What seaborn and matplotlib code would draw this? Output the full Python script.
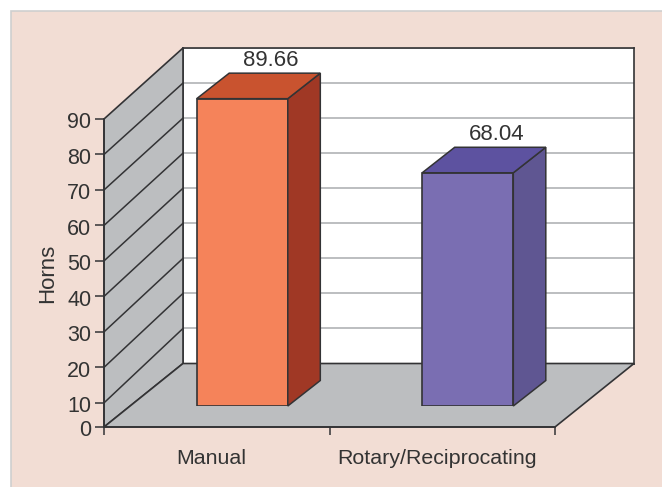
import numpy as np
import pandas as pd
import matplotlib
matplotlib.use("Agg")
import matplotlib.pyplot as plt
import seaborn as sns
from matplotlib.patches import Polygon, Rectangle
from matplotlib.transforms import Affine2D, IdentityTransform, ScaledTranslation
from matplotlib.patches import ConnectionPatch

categories = ["Manual", "Rotary/Reciprocating"]
horns = [89.66, 68.04]
value_labels = ["89.66", "68.04"]
y_ticks = [0, 10, 20, 30, 40, 50, 60, 70, 80, 90]
front_colors = ["#F5835A", "#7A6EB2"]
top_colors = ["#C9532F", "#5D52A0"]
side_colors = ["#A03825", "#5F5692"]

W, H = 662, 487
PINK = "#F2DDD4"
GREY = "#BCBEC0"
EDGE = "#333335"
TEXT = "#333333"

sns.set_theme(style="white")
plt.rcParams["font.family"] = ["Liberation Sans", "DejaVu Sans"]

fig = plt.figure(figsize=(W / 100, H / 100), dpi=100, facecolor="white")


def frame(left, right, top, bottom):
    return [left / W, 1 - bottom / H, (right - left) / W, (bottom - top) / H]


fig.add_artist(Rectangle((11 / W, -0.02), 1.1, 1 - 11 / H + 0.02, transform=fig.transFigure,
                         facecolor=PINK, edgecolor="#CFCFCF", linewidth=1.2, zorder=0))

# back wall
back = fig.add_axes(frame(183, 634, 48, 363.5), zorder=1, facecolor="white")
back.set_xlim(-0.5, 1.5)
back.set_ylim(0, 90)
back.set_xticks([])
back.set_yticks(y_ticks[1:])
back.tick_params(left=False, labelleft=False, length=0)
back.grid(True, axis="y", color=GREY, linewidth=1.4)
back.set_axisbelow(True)
for s in back.spines.values():
    s.set_color(EDGE)
    s.set_linewidth(1.2)

# front plane with the value axis; the lowest decade is drawn compressed, as in the source
front = fig.add_axes(frame(104, 555, 119, 427), zorder=2, facecolor="none")
front.set_xlim(-0.5, 1.5)
scale_in = [0, 10, 90]
scale_out = [3.2, 10, 90]
front.set_yscale("function", functions=(lambda v: np.interp(v, scale_in, scale_out),
                                        lambda v: np.interp(v, scale_out, scale_in)))
front.set_ylim(0, 90)
front.set_yticks(y_ticks)
front.set_yticklabels([str(t) for t in y_ticks])
front.minorticks_off()
front.set_xticks([-0.5, 0.5, 1.5])
front.set_xticklabels([])
front.set_xticks([0, 1], minor=True)
front.set_xticklabels(categories, minor=True)
front.tick_params(axis="y", which="major", left=True, length=6.5, width=1.1, color=EDGE,
                  labelsize=15.5, labelcolor=TEXT, pad=2.5)
front.tick_params(axis="x", which="major", bottom=True, length=6, width=1.1, color=EDGE)
front.tick_params(axis="x", which="minor", bottom=False, length=0, labelsize=15.4,
                  labelcolor=TEXT, pad=16)
shift = ScaledTranslation(-5 / 100, 0, fig.dpi_scale_trans)
for lab in front.get_xticklabels(minor=True):
    lab.set_transform(lab.get_transform() + shift)
ydown = ScaledTranslation(0, -1.5 / 100, fig.dpi_scale_trans)
for lab in front.get_yticklabels():
    lab.set_transform(lab.get_transform() + ydown)
front.set_ylabel("Horns", fontsize=16, color=TEXT, labelpad=7)
for name, s in front.spines.items():
    s.set_visible(name in ("left", "bottom"))
    s.set_color(EDGE)
    s.set_linewidth(1.2)

fig.canvas.draw()


def disp(ax, x, y):
    return ax.transData.transform((x, y))


identity = IdentityTransform()
wall = [disp(front, -0.5, 0), disp(front, -0.5, 90), disp(back, -0.5, 90), disp(back, -0.5, 0)]
front.add_patch(Polygon(wall, transform=identity, facecolor=GREY, edgecolor=EDGE,
                        linewidth=1.2, clip_on=False, zorder=1))
floor = [disp(front, -0.5, 0), disp(front, 1.5, 0), disp(back, 1.5, 0), disp(back, -0.5, 0)]
front.add_patch(Polygon(floor, transform=identity, facecolor=GREY, edgecolor=EDGE,
                        linewidth=1.2, clip_on=False, zorder=1))
for t in y_ticks[1:-1]:
    front.add_artist(ConnectionPatch(xyA=(-0.5, t), coordsA=front.transData,
                                     xyB=(-0.5, t), coordsB=back.transData,
                                     color=EDGE, linewidth=1.1, zorder=2))

# bars
bars = fig.add_axes(frame(129.5, 580.5, 97.5, 406), zorder=3, facecolor="none")
df = pd.DataFrame({"category": categories, "horns": horns})
sns.barplot(data=df, x="category", y="horns", hue="category", palette=front_colors,
            saturation=1, width=0.404, legend=False, ax=bars,
            edgecolor=EDGE, linewidth=1.2)
bars.set_xlim(-0.5, 1.5)
bars.set_ylim(0, 90)
bars.axis("off")

depth = Affine2D().translate(32.5, 25.5)
to_back = bars.transData + depth
for patch, top_c, side_c, label, val in zip(bars.patches, top_colors, side_colors,
                                            value_labels, horns):
    x0, x1 = patch.get_x(), patch.get_x() + patch.get_width()
    side = [(x1, 0), (x1, val)]
    bars.add_patch(Polygon(
        [bars.transData.transform(p) for p in side]
        + [to_back.transform(p) for p in side[::-1]],
        transform=identity, facecolor=side_c, edgecolor=EDGE, linewidth=1.1, clip_on=False))
    top = [(x0, val), (x1, val)]
    bars.add_patch(Polygon(
        [bars.transData.transform(p) for p in top]
        + [to_back.transform(p) for p in top[::-1]],
        transform=identity, facecolor=top_c, edgecolor=EDGE, linewidth=1.1, clip_on=False))
    bars.annotate(label, xy=((x0 + x1) / 2, val), xytext=(20.5, 27.5),
                  textcoords="offset points", ha="center", va="center",
                  fontsize=16, color=TEXT, annotation_clip=False)

fig.savefig("out.png", dpi=100, facecolor=fig.get_facecolor())
